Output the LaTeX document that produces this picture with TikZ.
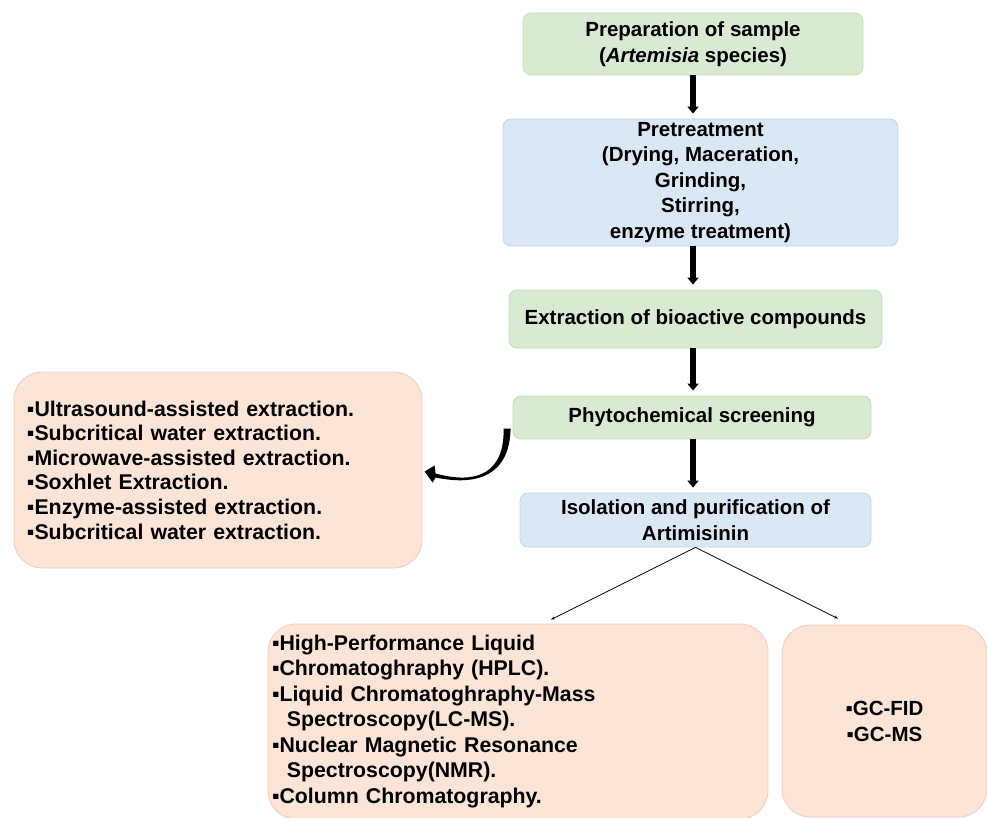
\documentclass[tikz,border=0pt]{standalone}
\usepackage{fontspec}
\setmainfont{Liberation Sans}
\usetikzlibrary{arrows.meta}

\definecolor{stepgreen}{HTML}{D9EAD3}
\definecolor{stepgreenline}{HTML}{C3DCB8}
\definecolor{stepblue}{HTML}{DAE7F4}
\definecolor{stepblueline}{HTML}{BFD4EA}
\definecolor{listpeach}{HTML}{FCE4D6}
\definecolor{listpeachline}{HTML}{EDCDBC}

\begin{document}
\begin{tikzpicture}[x=1pt,y=-1pt,
  font=\fontsize{20.5}{25.5}\selectfont\bfseries,
  greenbox/.style={draw=stepgreenline,fill=stepgreen,line width=0.8pt,rounded corners=8pt,align=center},
  bluebox/.style={draw=stepblueline,fill=stepblue,line width=0.8pt,rounded corners=8pt,align=center},
  listbox/.style={draw=listpeachline,fill=listpeach,line width=0.8pt,rounded corners=28pt,
    font=\fontsize{21.3}{25.5}\selectfont\bfseries},
  flowarrow/.style={line width=5.5pt,-{Triangle[width=11pt,length=7pt]},shorten >=5pt},
  splitarrow/.style={line width=0.8pt,-{Stealth[length=4pt,width=3pt]}}]
\useasboundingbox (0,0) rectangle (987,818);

% main flow
\node[greenbox,minimum width=340,minimum height=62] (prep) at (693,44)
  {Preparation of sample\\(\textit{Artemisia} species)};
\node[bluebox,minimum width=395,minimum height=121] (pretreat) at (700.5,182.5)
  {Pretreatment\\(Drying, Maceration,\\Grinding,\\Stirring,\\enzyme treatment)};
\node[greenbox,minimum width=373,minimum height=58] (extract) at (695.5,319)
  {Extraction of bioactive compounds};
\node[greenbox,minimum width=358,minimum height=43] (phyto) at (692,417.5)
  {Phytochemical screening};
\node[bluebox,minimum width=351,minimum height=54] (isolate) at (695.5,520)
  {Isolation and purification of\\Artimisinin};

% method lists
\node[listbox,minimum width=408,minimum height=196,text width=382,inner xsep=13,align=left,
  font=\fontsize{21.3}{24.6}\selectfont\bfseries] (methods) at (218,470)
  {▪Ultrasound-assisted extraction.\\
   ▪Subcritical water extraction.\\
   ▪Microwave-assisted extraction.\\
   ▪Soxhlet Extraction.\\
   ▪Enzyme-assisted extraction.\\
   ▪Subcritical water extraction.};
\node[listbox,minimum width=500,minimum height=195,text width=492,inner xsep=4,align=left] (hplc) at (518,721.5)
  {▪High-Performance Liquid\\
   ▪Chromatoghraphy (HPLC).\\
   ▪Liquid Chromatoghraphy-Mass\\
   \hspace*{0.7em}Spectroscopy(LC-MS).\\
   ▪Nuclear Magnetic Resonance\\
   \hspace*{0.7em}Spectroscopy(NMR).\\
   ▪Column Chromatography.};
\node[listbox,minimum width=205,minimum height=192,align=center,
  font=\fontsize{20.5}{26}\selectfont\bfseries] (gc) at (884.5,721)
  {\raisebox{-3pt}{▪GC-FID}\\\raisebox{-3pt}{▪GC-MS}};

% connectors
\draw[flowarrow] (prep.south) -- (prep.south |- pretreat.north);
\draw[flowarrow] (prep.south |- pretreat.south) -- (prep.south |- extract.north);
\draw[flowarrow] (prep.south |- extract.south) -- (prep.south |- phyto.north);
\draw[flowarrow] (prep.south |- phyto.south) -- (prep.south |- isolate.north);
\coordinate (bendstart) at ([shift={(-5,11)}]phyto.west);
\fill[shift={(bendstart)}] (3,0) .. controls (2,46) and (-29,58) .. (-72,49)
  -- (-75,54) -- (-83,43) -- (-73,37) -- (-72,45)
  .. controls (-30,56.5) and (-3,44) .. (-4,0) -- cycle;
\draw[splitarrow] (isolate.south) -- ([shift={(33,-4)}]hplc.north);
\draw[splitarrow] (isolate.south) -- ([shift={(-46.5,-6)}]gc.north);
\end{tikzpicture}
\end{document}
